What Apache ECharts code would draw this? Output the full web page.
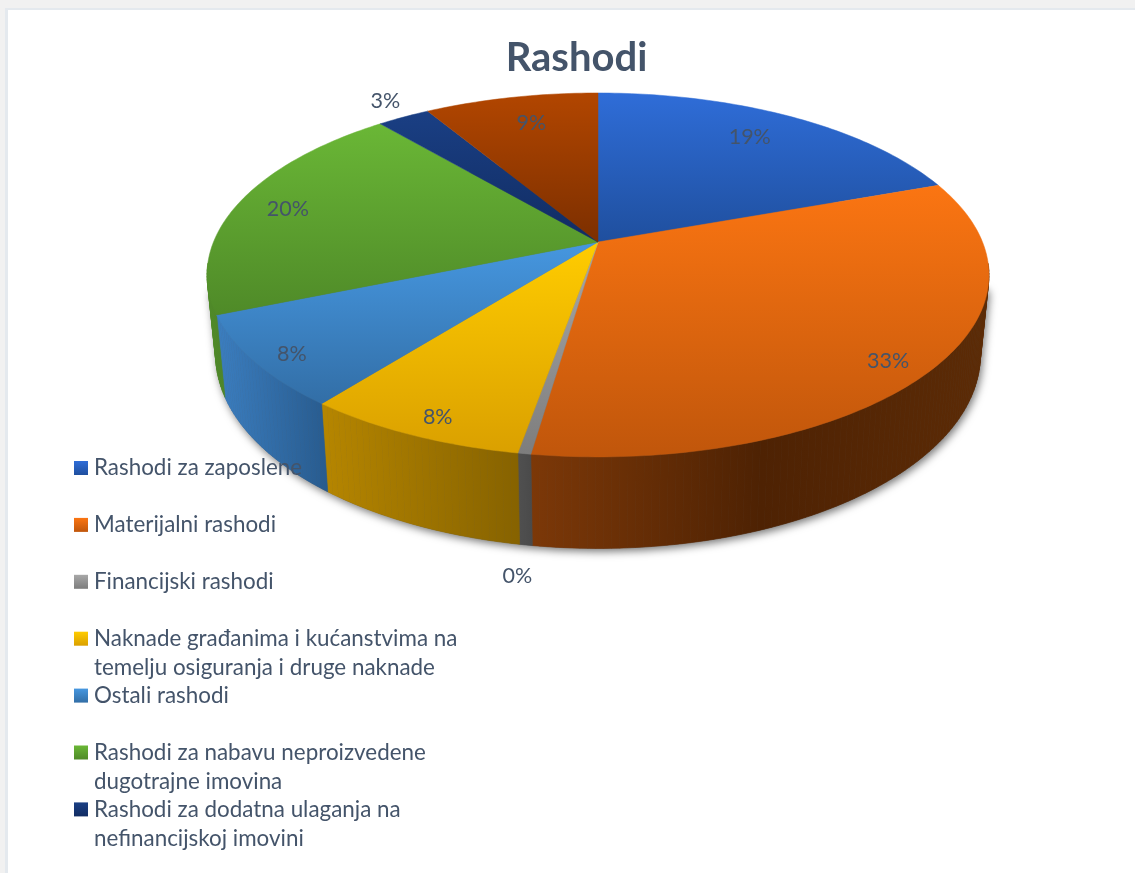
<!DOCTYPE html>
<html>
<head>
<meta charset="utf-8">
<style>
html,body{margin:0;padding:0;width:1135px;height:873px;overflow:hidden;background:#f1f1f1;}
#frame{position:absolute;left:5px;top:8px;width:1130px;height:865px;background:#fff;border-left:3px solid #e4e9ee;border-top:2px solid #e4e9ee;box-sizing:border-box;}
#chart{position:absolute;left:0;top:0;width:1135px;height:873px;}
</style>
<script src="https://cdn.jsdelivr.net/npm/echarts@6/dist/echarts.min.js"></script>
</head>
<body>
<div id="frame"></div>
<div id="chart"></div>
<script>
var titleText = 'Rashodi';
var categories = [
  'Rashodi za zaposlene',
  'Materijalni rashodi',
  'Financijski rashodi',
  'Naknade građanima i kućanstvima na\ntemelju osiguranja i druge naknade',
  'Ostali rashodi',
  'Rashodi za nabavu neproizvedene\ndugotrajne imovina',
  'Rashodi za dodatna ulaganja na\nnefinancijskoj imovini'
];
var values = [19.45, 32.84, 0.45, 7.83, 8.13, 20.15, 2.6, 8.55];

var topColors = [
  ['#2f6dd8','#1f4f9e'],['#fb7512','#c0560b'],['#a8a8a8','#7d7d7d'],['#ffcc00','#daa000'],
  ['#4697e0','#326ea6'],['#6ab736','#4f8a28'],['#1a3f84','#112c62'],['#b24600','#7c2f00']
];
var wallColors = [
  ['#1f4f9e','#173c78'],['#7c3808','#4e2203','#5c2b06'],['#505050','#4a4a4a'],['#b68600','#866200'],
  ['#3b7ec0','#285b8e'],['#4f8a28','#3e6e20'],['#112c62','#0d2450'],['#7c2f00','#5e2400']
];
var labelRadius = [0.80, 0.90, 1.00, 0.91, 0.91, 0.86, 1.14, 0.80];
var labelShift = [[-6,-2],[-9,8],[-7,122],[7,3],[3,4],[0,1],[5,-1],[5,0]];

var CX = 598, CY = 242, A = 384.5, B = 176, K = 0.181;
var total = values.reduce(function (a, b) { return a + b; }, 0);
var edges = [0];
values.forEach(function (v, i) { edges.push(edges[i] + v / total * 360); });

function project(deg, r) {
  var t = deg * Math.PI / 180, u = r * Math.sin(t), v = -r * Math.cos(t), w = 1 - K * v;
  return [CX + A * u / w, CY + B * v / w];
}
function lower(p) { return [CX + (p[0] - CX) * 0.978, 1.064 * p[1] + 62.3]; }
function angles(a0, a1) {
  var out = [], n = Math.max(2, Math.ceil(a1 - a0));
  for (var i = 0; i <= n; i++) out.push(a0 + (a1 - a0) * i / n);
  return out;
}
function arc(a0, a1) {
  return angles(a0, a1).map(function (d) { return project(d, 1); });
}
function stops(cs) {
  return cs.map(function (c, i) { return { offset: i / (cs.length - 1), color: c }; });
}
function hull(points) {
  var pts = points.slice().sort(function (a, b) { return a[0] - b[0] || a[1] - b[1]; });
  function cross(o, a, b) { return (a[0]-o[0])*(b[1]-o[1]) - (a[1]-o[1])*(b[0]-o[0]); }
  function half(list) {
    var h = [];
    list.forEach(function (p) {
      while (h.length > 1 && cross(h[h.length-2], h[h.length-1], p) <= 0) h.pop();
      h.push(p);
    });
    h.pop();
    return h;
  }
  return half(pts).concat(half(pts.slice().reverse()));
}
var sliceData = values.map(function (v, i) { return { value: v, name: categories[i] || '' }; });

var chart = echarts.init(document.getElementById('chart'), null, { renderer: 'canvas' });
chart.setOption({
  animation: false,
  backgroundColor: 'transparent',
  title: {
    text: titleText, left: 571.5, top: 33, textAlign: 'center',
    textStyle: { fontFamily: 'Lato', fontWeight: 'bold', fontSize: 40, color: '#44546a' }
  },
  series: [
    { // ground shadow: under the base disc and the front of the rim only
      type: 'custom', coordinateSystem: 'none', z: 1, silent: true,
      data: [0],
      renderItem: function () {
        var base = arc(0, 360).map(lower), rim = arc(105, 255);
        return { type: 'polygon', shape: { points: hull(base.concat(rim)) },
          style: { fill: '#555', shadowBlur: 9, shadowColor: 'rgba(0,0,0,0.55)', shadowOffsetX: 2, shadowOffsetY: 3 } };
      }
    },
    { // side walls: one strip per degree, only for the part that faces the viewer
      type: 'custom', coordinateSystem: 'none', z: 2, silent: true,
      data: sliceData,
      renderItem: function (p) {
        var i = p.dataIndex, ds = angles(edges[i], edges[i + 1]);
        var top = ds.map(function (d) { return project(d, 1); }), low = top.map(lower);
        var xs = top.concat(low).map(function (q) { return q[0]; });
        var x0 = Math.min.apply(null, xs), x1 = Math.max.apply(null, xs);
        var g = new echarts.graphic.LinearGradient(x0, 0, x1, 0, stops(wallColors[i]), true);
        var kids = [];
        for (var j = 0; j < top.length - 1; j++) {
          if (ds[j + 1] < 97 || ds[j] > 263) continue;
          kids.push({ type: 'polygon',
            shape: { points: [top[j], top[j + 1], low[j + 1], low[j]] },
            style: { fill: g, stroke: g, lineWidth: 0.6 } });
        }
        return { type: 'group', children: kids };
      }
    },
    { // top faces
      type: 'custom', coordinateSystem: 'none', z: 3, silent: true,
      data: sliceData,
      renderItem: function (p) {
        var i = p.dataIndex;
        var pts = [[CX, CY]].concat(arc(edges[i], edges[i + 1]));
        var g = new echarts.graphic.LinearGradient(0, 0, 0, 1, stops(topColors[i]));
        return { type: 'polygon', shape: { points: pts }, style: { fill: g, stroke: g, lineWidth: 0.5 } };
      }
    },
    { // percentage labels
      type: 'custom', coordinateSystem: 'none', z: 4, silent: true,
      data: sliceData,
      renderItem: function (p) {
        var i = p.dataIndex, mid = (edges[i] + edges[i + 1]) / 2;
        var q = project(mid, labelRadius[i]);
        return { type: 'text', style: {
          text: Math.round(values[i] / total * 100) + '%',
          x: q[0] + labelShift[i][0], y: q[1] + labelShift[i][1],
          align: 'center', verticalAlign: 'middle',
          font: '21.5px Lato', fill: '#44546a' } };
      }
    },
    { // legend
      type: 'custom', coordinateSystem: 'none', z: 5, silent: true,
      data: categories.map(function (c, i) { return { value: i, name: c }; }),
      renderItem: function (p) {
        var i = p.dataIndex, y = 468 + 56.9 * i;
        return { type: 'group', children: [
          { type: 'rect', shape: { x: 74, y: y - 7, width: 14, height: 14 },
            style: { fill: new echarts.graphic.LinearGradient(0, 0, 0, 1, stops(topColors[i])) } },
          { type: 'text', style: {
            text: categories[i], x: 94, y: y - 14.5,
            align: 'left', verticalAlign: 'top', lineHeight: 29,
            font: '22.4px Lato', fill: '#44546a' } }
        ] };
      }
    }
  ]
});
</script>
</body>
</html>
